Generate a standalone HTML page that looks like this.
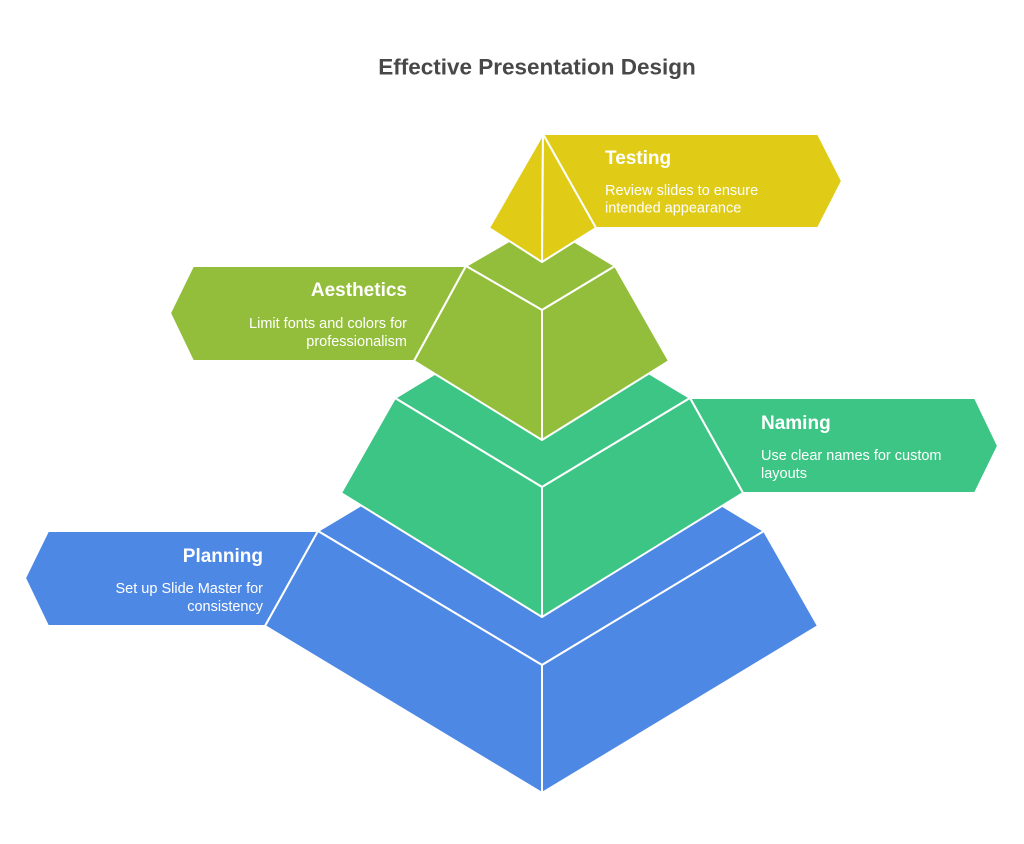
<!DOCTYPE html>
<html><head><meta charset="utf-8"><style>
html,body{margin:0;padding:0;background:#fff;}
svg{display:block;}
text{font-family:"Liberation Sans",Arial,sans-serif;}
</style></head><body>
<svg width="1024" height="844" viewBox="0 0 1024 844" xmlns="http://www.w3.org/2000/svg">
<rect width="1024" height="844" fill="#fff"/>
<text x="537" y="74.5" text-anchor="middle" font-size="22.5" font-weight="bold" fill="#484848">Effective Presentation Design</text>

<g stroke="#fff" stroke-width="2" stroke-linejoin="round">
<!-- Blue layer -->
<g fill="#4E88E5">
<polygon points="318,531 48,531 25,578 48,626 265,626"/>
<polygon points="318,531 542,397 764,531 542,665"/>
<polygon points="318,531 542,665 542,793 265,626"/>
<polygon points="542,665 764,531 818,626 542,793"/>
</g>
<!-- Teal layer -->
<g fill="#3DC585">
<polygon points="690,398 975,398 998,446 975,493 743,493"/>
<polygon points="395,398 542,309 690,398 542,487"/>
<polygon points="395,398 542,487 542,617 341,493"/>
<polygon points="542,487 690,398 743,493 542,617"/>
</g>
<!-- Olive layer -->
<g fill="#93BE3B">
<polygon points="466,266 193,266 170,313 193,361 414,361"/>
<polygon points="466,266 542,222 615,266 542,310"/>
<polygon points="466,266 542,310 542,440 414,361"/>
<polygon points="542,310 615,266 669,361 542,440"/>
</g>
<!-- Yellow top -->
<g fill="#E0CB16">
<polygon points="543,134 818,134 842,181 818,228 596,228"/>
<polygon points="543,134 489,228 542,262"/>
<polygon points="543,134 542,262 596,228"/>
</g>
</g>

<g fill="#fff">
<text x="605" y="164" font-size="19" font-weight="bold">Testing</text>
<text x="605" y="195" font-size="14.5">Review slides to ensure</text>
<text x="605" y="212.5" font-size="14.5">intended appearance</text>

<text x="407" y="296" font-size="19" font-weight="bold" text-anchor="end">Aesthetics</text>
<text x="407" y="328" font-size="14.5" text-anchor="end">Limit fonts and colors for</text>
<text x="407" y="346" font-size="14.5" text-anchor="end">professionalism</text>

<text x="761" y="429" font-size="19" font-weight="bold">Naming</text>
<text x="761" y="460" font-size="14.5">Use clear names for custom</text>
<text x="761" y="478" font-size="14.5">layouts</text>

<text x="263" y="562" font-size="19" font-weight="bold" text-anchor="end">Planning</text>
<text x="263" y="593" font-size="14.5" text-anchor="end">Set up Slide Master for</text>
<text x="263" y="611" font-size="14.5" text-anchor="end">consistency</text>
</g>
</svg>
</body></html>
